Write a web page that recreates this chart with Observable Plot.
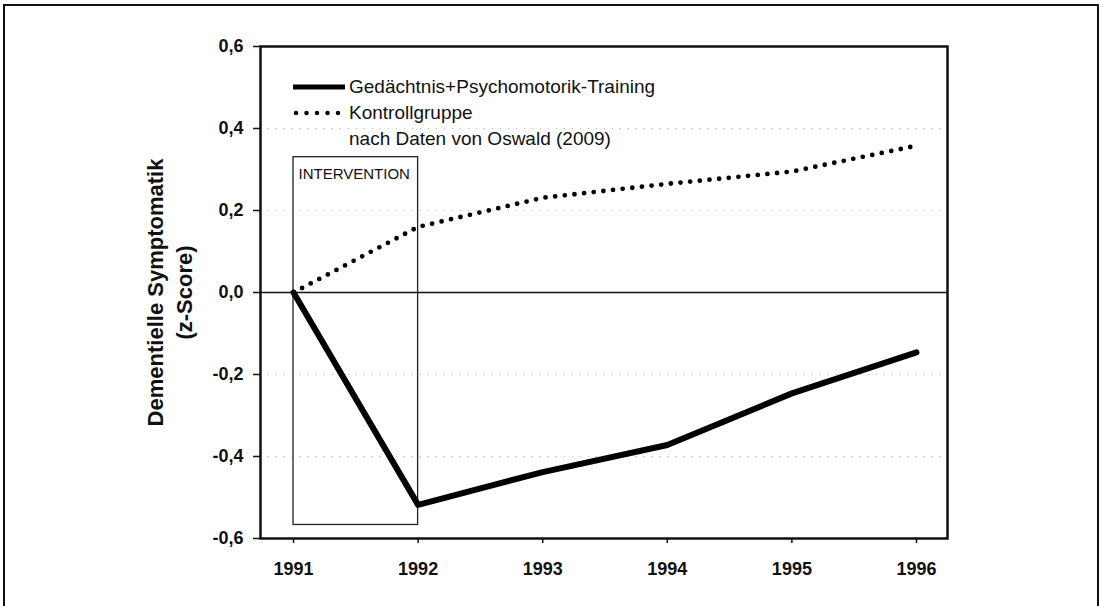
<!DOCTYPE html>
<html>
<head>
<meta charset="utf-8">
<script src="https://cdn.jsdelivr.net/npm/d3@7"></script>
<script src="https://cdn.jsdelivr.net/npm/@observablehq/plot@0.6"></script>
<style>
  html, body { margin: 0; padding: 0; background: #fff; overflow: hidden; }
  body { width: 1103px; height: 606px; position: relative; font-family: "Liberation Sans", Arial, sans-serif; }
  #outer { position: absolute; left: 3px; top: 4px; width: 1096px; height: 700px; border: 2px solid #111; box-sizing: border-box; }
  #chart { position: absolute; left: 0; top: 0; }
  #legend { position: absolute; left: 292px; top: 74px; font-size: 19px; color: #111; line-height: 26px; }
  #legend .row { display: flex; align-items: center; height: 26px; }
  #legend svg { width: 54px; height: 10px; margin-right: 3px; flex: none; }
  #legend .indent { padding-left: 57px; }
</style>
</head>
<body>
<div id="outer"></div>
<div id="chart"></div>
<div id="legend"></div>
<script>
// ---- data ----
const years = [1991, 1992, 1993, 1994, 1995, 1996];
const training = [0.0, -0.518, -0.438, -0.372, -0.246, -0.146];
const control = [0.0, 0.160, 0.231, 0.265, 0.295, 0.358];
const yTicks = [-0.6, -0.4, -0.2, 0.0, 0.2, 0.4, 0.6];
const gridValues = [-0.4, -0.2, 0.2, 0.4];
const seriesNames = ["Gedächtnis+Psychomotorik-Training", "Kontrollgruppe"];
const sourceNote = "nach Daten von Oswald (2009)";
const interventionStart = [1991];
const interventionEnd = [1992];
const interventionTop = [0.33];
const interventionBottom = [-0.567];
const interventionLabel = "INTERVENTION";
const yLabel = "Dementielle Symptomatik\n(z-Score)";

const trainingData = years.map((x, i) => ({x, y: training[i]}));
const controlData = years.map((x, i) => ({x, y: control[i]}));
const interventionData = interventionStart.map((s, i) => ({x1: s, x2: interventionEnd[i], y1: interventionBottom[i], y2: interventionTop[i]}));

const fmt = d => d.toFixed(1).replace(".", ",");

const chart = Plot.plot({
  width: 1103,
  height: 606,
  marginLeft: 260,
  marginRight: 156,
  marginTop: 46,
  marginBottom: 68,
  style: {fontFamily: "'Liberation Sans', Arial, sans-serif", color: "#111", background: "transparent"},
  x: {domain: [1990.735, 1996.249]},
  y: {domain: [-0.6, 0.6]},
  marks: [
    Plot.ruleY(gridValues, {stroke: "#999", strokeWidth: 1, strokeDasharray: "1 7", strokeOpacity: 0.7}),
    Plot.ruleY([0], {stroke: "#111", strokeWidth: 1.3}),
    Plot.rect(interventionData, {x1: "x1", x2: "x2", y1: "y1", y2: "y2", fill: "none", stroke: "#222", strokeWidth: 1.3}),
    Plot.text(interventionData, {x: "x1", y: "y2", text: () => interventionLabel, textAnchor: "start", lineAnchor: "top", dx: 5, dy: 11, fontSize: 15, fill: "#111"}),
    Plot.line(controlData, {x: "x", y: "y", stroke: "#000", strokeWidth: 4.8, strokeDasharray: "0 9.7", strokeLinecap: "round"}),
    Plot.line(trainingData, {x: "x", y: "y", stroke: "#000", strokeWidth: 6, strokeLinejoin: "round"}),
    Plot.frame({stroke: "#111", strokeWidth: 2.5}),
    Plot.axisY({ticks: yTicks, tickFormat: fmt, tickSize: 7, tickPadding: 10, fontSize: 18, fontWeight: "bold", label: null, stroke: "#111", strokeWidth: 1.5}),
    Plot.axisX({ticks: years, tickFormat: d => String(d), tickSize: 5, tickPadding: 19, fontSize: 18, fontWeight: "bold", label: null, stroke: "#111", strokeWidth: 1.5}),
    Plot.text([yLabel], {frameAnchor: "left", textAnchor: "middle", dx: -92, rotate: -90, fontSize: 22, fontWeight: "bold", lineHeight: 1.32, fill: "#111"})
  ]
});
document.getElementById("chart").appendChild(chart);

// legend
const legend = document.getElementById("legend");
legend.innerHTML = `
  <div class="row"><svg viewBox="0 0 54 10"><line x1="1" y1="5" x2="53" y2="5" stroke="#000" stroke-width="5"/></svg><span>${seriesNames[0]}</span></div>
  <div class="row"><svg viewBox="0 0 54 10"><line x1="4" y1="5" x2="50" y2="5" stroke="#000" stroke-width="4.5" stroke-dasharray="0 10.5" stroke-linecap="round"/></svg><span>${seriesNames[1]}</span></div>
  <div class="row indent"><span>${sourceNote}</span></div>`;
</script>
</body>
</html>
